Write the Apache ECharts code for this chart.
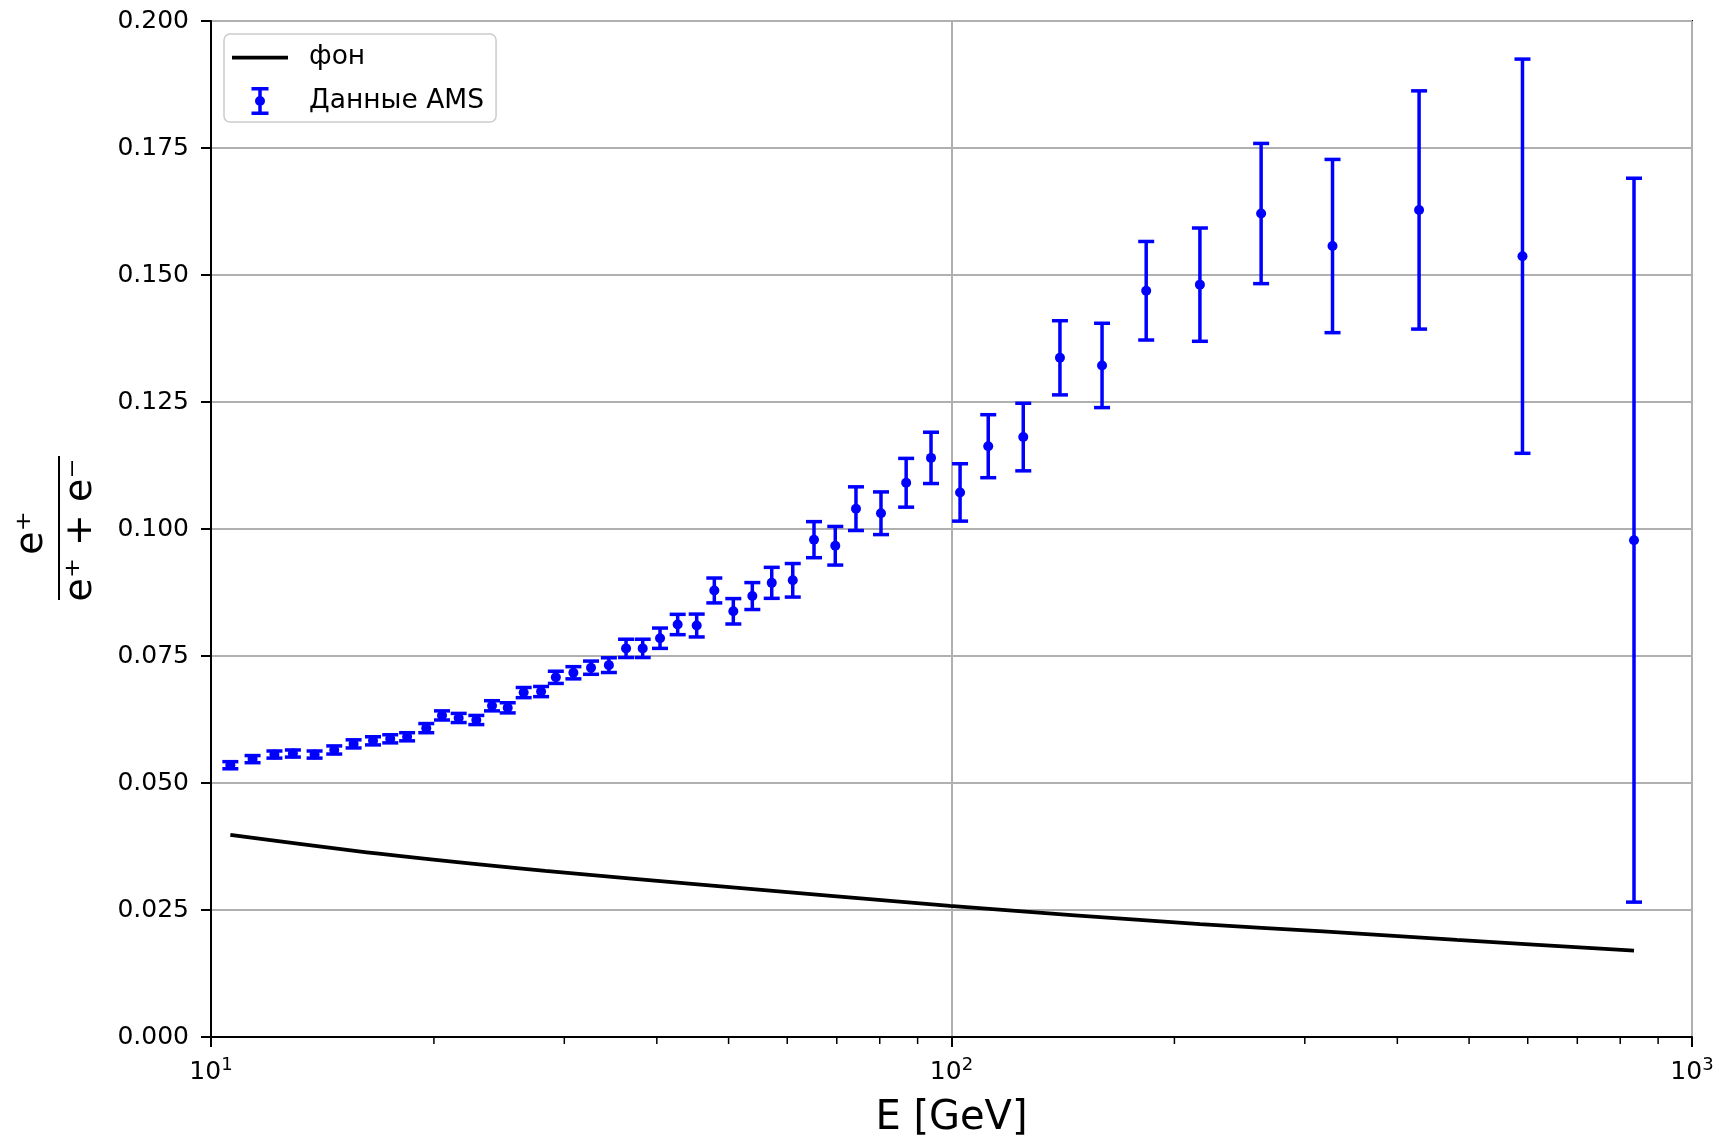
<!DOCTYPE html>
<html><head><meta charset="utf-8">
<script src="https://cdn.jsdelivr.net/npm/echarts@6/dist/echarts.min.js"></script>
<style>html,body{margin:0;padding:0;background:#fff}#chart{width:1719px;height:1140px}</style>
</head><body><div id="chart"></div>
<script>
// ---- data ----
const energy = [10.62, 11.38, 12.18, 12.90, 13.80, 14.67, 15.58, 16.55, 17.46, 18.40,
  19.53, 20.51, 21.60, 22.82, 23.96, 25.16, 26.44, 27.91, 29.22, 30.86,
  32.6, 34.46, 36.35, 38.28, 40.40, 42.68, 45.28, 47.83, 50.74, 53.83,
  57.18, 61.04, 65.21, 69.67, 74.30, 80.31, 86.85, 93.83, 102.7, 112.1,
  125.0, 140.1, 159.7, 183.2, 216.5, 261.9, 327.0, 428.0, 590.3, 835.0];
const fraction = [0.0535, 0.0547, 0.0556, 0.0558, 0.0556, 0.0565, 0.0577, 0.0583, 0.0587, 0.0591,
  0.0608, 0.0633, 0.0628, 0.0624, 0.0652, 0.0648, 0.0678, 0.0680, 0.0708, 0.0717,
  0.0727, 0.0732, 0.0765, 0.0765, 0.0785, 0.0812, 0.0810, 0.0879, 0.0838, 0.0868,
  0.0894, 0.0899, 0.0979, 0.0967, 0.1040, 0.1031, 0.1091, 0.1140, 0.1072, 0.1163,
  0.1181, 0.1337, 0.1322, 0.1469, 0.1481, 0.1621, 0.1557, 0.1628, 0.1537, 0.0978];
const fractionErr = [0.0007, 0.0007, 0.0007, 0.0007, 0.0007, 0.0008, 0.0008, 0.0008, 0.0008, 0.0008,
  0.0009, 0.0009, 0.0009, 0.0009, 0.0010, 0.0010, 0.0010, 0.0010, 0.0012, 0.0012,
  0.0013, 0.00145, 0.0018, 0.0018, 0.0020, 0.0020, 0.00225, 0.00245, 0.0025, 0.00265,
  0.00305, 0.0033, 0.00355, 0.0038, 0.0043, 0.0042, 0.0048, 0.00505, 0.00565, 0.0062,
  0.00665, 0.0073, 0.0083, 0.0097, 0.01115, 0.0138, 0.01705, 0.02345, 0.0388, 0.07125];
const bgEnergy = [10.62, 16.85, 28.28, 47.5, 99.5, 216.6, 317.7, 481.2, 835.0];
const bgFraction = [0.0398, 0.0361, 0.0327, 0.0298, 0.0258, 0.0222, 0.0208, 0.0191, 0.0170];
const minorTickValues = [20, 30, 40, 50, 60, 70, 80, 90, 200, 300, 400, 500, 600, 700, 800, 900];
const xMin = 10, xMax = 1000;
const yMin = 0, yMax = 0.2, yStep = 0.025;
const bgName = 'фон';
const amsName = 'Данные AMS';
const xName = 'E [GeV]';
const yNumerator = 'e⁺';
const yDenominator = 'e⁺ + e⁻';

// ---- chart ----
const FONT = 'DejaVu Sans';
const BLUE = '#0000ff';
const chart = echarts.init(document.getElementById('chart'), null, {renderer: 'canvas'});

const amsIcon = 'path://M0,0H17V3.5H0Z M6.75,3.5H10.25V10H6.75Z M8.5,9A5,5 0 1,1 8.5,19A5,5 0 1,1 8.5,9Z M6.75,18H10.25V24.5H6.75Z M0,24.5H17V28H0Z';
const lineIcon = 'path://M0,0H56V3.75H0Z';

const option = {
  animation: false,
  backgroundColor: '#ffffff',
  textStyle: {fontFamily: FONT},
  grid: {left: 211, right: 27, top: 21, bottom: 103, outerBoundsMode: 'none', containLabel: false,
    show: true, borderColor: '#000', borderWidth: 2, backgroundColor: 'transparent'},
  legend: {
    orient: 'vertical', left: 224, top: 34,
    padding: [10, 12, 7, 8],
    itemWidth: 56, itemHeight: 28, itemGap: 16,
    backgroundColor: 'rgba(255,255,255,0.8)', borderColor: '#cccccc', borderWidth: 1.5, borderRadius: 6,
    textStyle: {fontFamily: FONT, fontSize: 26.5, color: '#000', padding: [0, 0, 0, 16]},
    data: [{name: bgName, icon: lineIcon}, {name: amsName, icon: amsIcon}]
  },
  xAxis: {
    type: 'log', logBase: 10, min: xMin, max: xMax,
    name: xName, nameLocation: 'middle', nameGap: 62,
    nameTextStyle: {fontFamily: FONT, fontSize: 40, color: '#000'},
    axisLine: {show: true, lineStyle: {color: '#000', width: 2}},
    axisTick: {show: true, length: 10, lineStyle: {color: '#000', width: 2}},
    axisLabel: {
      fontFamily: FONT, fontSize: 25, color: '#000', margin: 19, showMinLabel: true, showMaxLabel: true,
      formatter: v => '{b|10}{s|' + Math.round(Math.log10(v)) + '}',
      rich: {
        b: {fontFamily: FONT, fontSize: 25, color: '#000'},
        s: {fontFamily: FONT, fontSize: 18, color: '#000', padding: [0, 0, 14, 0]}
      }
    },
    splitLine: {show: true, lineStyle: {color: '#b0b0b0', width: 2}},
    minorTick: {show: false}
  },
  yAxis: {
    type: 'value', min: yMin, max: yMax, interval: yStep,
    axisLine: {show: true, lineStyle: {color: '#000', width: 2}},
    axisTick: {show: true, length: 10, lineStyle: {color: '#000', width: 2}},
    axisLabel: {fontFamily: FONT, fontSize: 25, color: '#000', margin: 22, formatter: v => v.toFixed(3)},
    splitLine: {show: true, lineStyle: {color: '#b0b0b0', width: 2}}
  },
  graphic: [
    {type: 'text', x: 32, y: 533, rotation: Math.PI / 2,
      style: {text: yNumerator, fontFamily: FONT, fontSize: 38, fill: '#000', align: 'center', verticalAlign: 'middle'}},
    {type: 'line', shape: {x1: 59, y1: 456, x2: 59, y2: 600}, style: {stroke: '#000', lineWidth: 2}},
    {type: 'text', x: 81, y: 530, rotation: Math.PI / 2,
      style: {text: yDenominator, fontFamily: FONT, fontSize: 38, fill: '#000', align: 'center', verticalAlign: 'middle'}}
  ],
  series: [
    {
      name: bgName, type: 'line', showSymbol: false, symbol: 'none', smooth: 0.3,
      lineStyle: {color: '#000', width: 3.75}, itemStyle: {color: '#000'},
      data: bgEnergy.map((e, i) => [e, bgFraction[i]]), z: 3
    },
    {
      name: 'errorbars', type: 'custom', z: 4, silent: true,
      encode: {x: 0, y: [1, 2]},
      data: energy.map((e, i) => [e, fraction[i] - fractionErr[i], fraction[i] + fractionErr[i]]),
      renderItem: (params, api) => {
        const x = api.value(0);
        const lo = api.coord([x, api.value(1)]);
        const hi = api.coord([x, api.value(2)]);
        const cw = 8;
        const st = {stroke: BLUE, lineWidth: 3.5};
        return {type: 'group', children: [
          {type: 'line', shape: {x1: lo[0], y1: lo[1], x2: hi[0], y2: hi[1]}, style: st},
          {type: 'line', shape: {x1: lo[0] - cw, y1: lo[1], x2: lo[0] + cw, y2: lo[1]}, style: st},
          {type: 'line', shape: {x1: hi[0] - cw, y1: hi[1], x2: hi[0] + cw, y2: hi[1]}, style: st}
        ]};
      }
    },
    {
      name: amsName, type: 'scatter', symbol: 'circle', symbolSize: 10, z: 5,
      itemStyle: {color: BLUE, opacity: 1},
      data: energy.map((e, i) => [e, fraction[i]])
    },
    {
      name: 'minorTicks', type: 'custom', clip: false, silent: true, z: 6,
      data: minorTickValues.map(v => [v, yMin]),
      renderItem: (params, api) => {
        const p = api.coord([api.value(0), api.value(1)]);
        return {type: 'line', shape: {x1: p[0], y1: p[1], x2: p[0], y2: p[1] + 7}, style: {stroke: '#000', lineWidth: 1.5}};
      }
    }
  ]
};
chart.setOption(option);
</script>
</body></html>
